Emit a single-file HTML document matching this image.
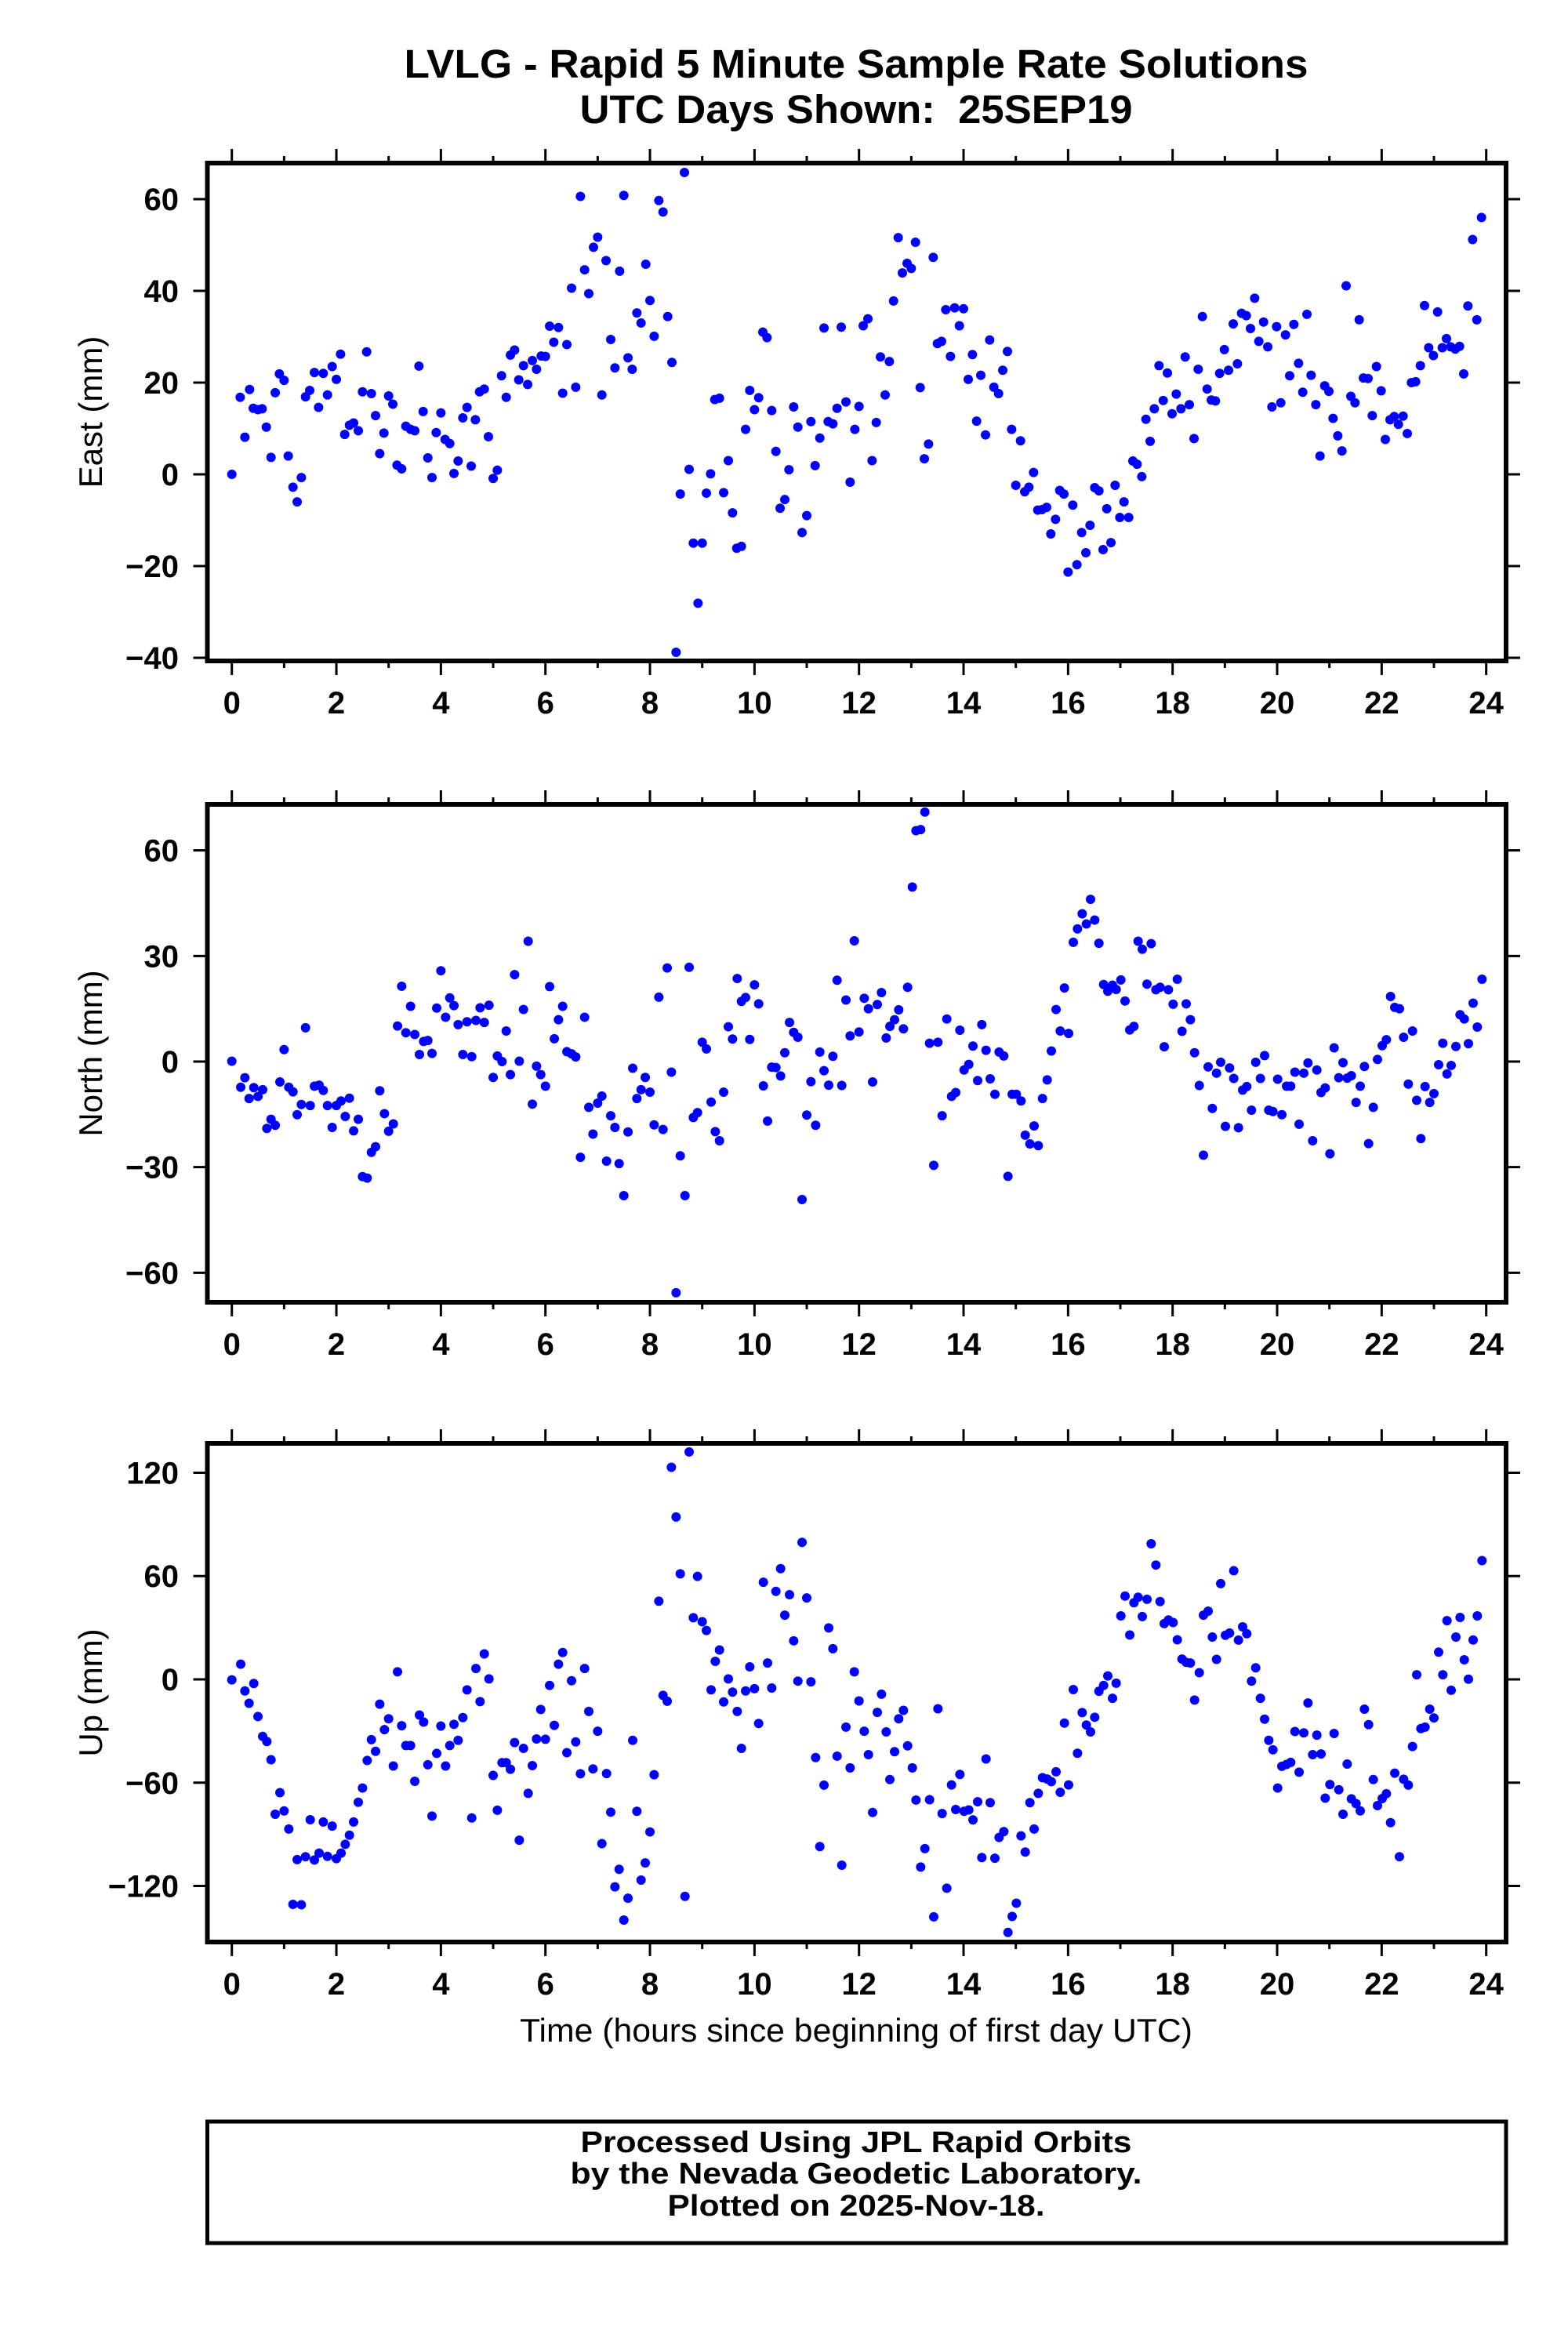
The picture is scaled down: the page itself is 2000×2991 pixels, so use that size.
<!DOCTYPE html>
<html>
<head>
<meta charset="utf-8">
<style>
  html, body { margin: 0; padding: 0; background: #ffffff; }
  svg { display: block; }
  text { font-family: "Liberation Sans", "DejaVu Sans", sans-serif; fill: #000; }
  .tick-label { font-weight: bold; font-size: 40px; }
  .axis-title { font-size: 42px; }
  .title { font-weight: bold; font-size: 51px; }
  .footer { font-weight: bold; font-size: 38px; }
</style>
</head>
<body>
<svg id="chart" xmlns="http://www.w3.org/2000/svg" width="2000" height="2991" viewBox="0 0 2000 2991">
  <rect x="0" y="0" width="2000" height="2991" fill="#ffffff"/>
  <text class="title" x="1092" y="99" text-anchor="middle" textLength="1153" lengthAdjust="spacingAndGlyphs">LVLG - Rapid 5 Minute Sample Rate Solutions</text>
  <text class="title" x="1092" y="157" text-anchor="middle" textLength="705" lengthAdjust="spacingAndGlyphs" xml:space="preserve">UTC Days Shown:  25SEP19</text>
  <g id="panels"></g>
  <text class="axis-title" x="1092" y="2604" text-anchor="middle" textLength="858" lengthAdjust="spacingAndGlyphs">Time (hours since beginning of first day UTC)</text>
  <rect x="264.5" y="2706" width="1656.5" height="155" fill="none" stroke="#000" stroke-width="5"/>
  <text class="footer" x="1092" y="2745" text-anchor="middle" textLength="703" lengthAdjust="spacingAndGlyphs">Processed Using JPL Rapid Orbits</text>
  <text class="footer" x="1092" y="2785" text-anchor="middle" textLength="729" lengthAdjust="spacingAndGlyphs">by the Nevada Geodetic Laboratory.</text>
  <text class="footer" x="1092" y="2826" text-anchor="middle" textLength="481" lengthAdjust="spacingAndGlyphs">Plotted on 2025-Nov-18.</text>
</svg>
<script>
// ---- data (hours since start of day, displacement in mm) ----
const xTickValues = [0,2,4,6,8,10,12,14,16,18,20,22,24];
const xTickLabels = ["0","2","4","6","8","10","12","14","16","18","20","22","24"];

const eastTicks = [-40,-20,0,20,40,60];
const eastTickLabels = ["\u221240","\u221220","0","20","40","60"];
const northTicks = [-60,-30,0,30,60];
const northTickLabels = ["\u221260","\u221230","0","30","60"];
const upTicks = [-120,-60,0,60,120];
const upTickLabels = ["\u2212120","\u221260","0","60","120"];

const eastT = [0,0.16,0.25,0.34,0.41,0.5,0.58,0.66,0.75,0.83,0.91,1.0,1.08,1.17,1.25,1.33,1.41,1.49,1.58,1.66,1.75,1.83,1.92,2.0,2.08,2.16,2.25,2.33,2.42,2.5,2.58,2.67,2.75,2.83,2.91,3.0,3.08,3.16,3.25,3.33,3.42,3.5,3.58,3.66,3.75,3.83,3.91,4.0,4.08,4.17,4.25,4.33,4.42,4.5,4.58,4.66,4.74,4.83,4.91,5.0,5.08,5.16,5.25,5.33,5.41,5.49,5.58,5.66,5.75,5.83,5.92,6.0,6.08,6.16,6.25,6.33,6.41,6.5,6.58,6.67,6.75,6.83,6.92,7.0,7.08,7.16,7.25,7.33,7.42,7.5,7.58,7.66,7.75,7.83,7.92,8.0,8.08,8.17,8.25,8.34,8.42,8.5,8.58,8.66,8.75,8.83,8.92,9.0,
9.08,9.16,9.24,9.33,9.41,9.5,9.58,9.66,9.75,9.83,9.91,10.0,10.08,10.16,10.24,10.33,10.41,10.49,10.58,10.66,10.75,10.83,10.91,11.0,11.08,11.16,11.25,11.33,11.41,11.5,11.58,11.66,11.75,11.83,11.92,12.0,12.08,12.17,12.25,12.33,12.41,12.5,12.58,12.66,12.75,12.83,12.92,13.0,13.08,13.17,13.25,13.33,13.42,13.5,13.58,13.66,13.75,13.83,13.92,14.0,14.09,14.17,14.25,14.33,14.42,14.5,14.58,14.67,14.75,14.84,14.92,15.0,15.09,15.17,15.25,15.34,15.42,15.5,15.59,15.67,15.76,15.84,15.92,16.0,16.09,16.17,16.26,16.34,16.42,16.51,16.59,16.67,
16.74,16.82,16.9,16.99,17.07,17.16,17.24,17.32,17.41,17.49,17.57,17.65,17.74,17.82,17.9,17.99,18.07,18.16,18.24,18.32,18.41,18.49,18.57,18.66,18.74,18.82,18.9,18.99,19.07,19.16,19.24,19.32,19.41,19.49,19.57,19.65,19.74,19.82,19.9,19.99,20.07,20.16,20.24,20.32,20.41,20.49,20.57,20.65,20.74,20.82,20.91,20.99,21.07,21.16,21.24,21.32,21.41,21.49,21.57,21.65,21.74,21.82,21.9,21.99,22.07,22.16,22.24,22.32,22.41,22.49,22.57,22.65,22.74,22.82,22.9,22.99,23.07,23.16,23.24,23.32,23.41,23.49,23.57,23.65,23.74,23.82,23.91];
const eastV = [0,16.8,8.1,18.5,14.4,14.1,14.3,10.3,3.7,17.8,21.9,20.5,4.0,-2.8,-6.0,-0.7,16.9,18.3,22.2,14.6,22.0,17.3,23.5,20.7,26.2,8.7,10.7,11.2,9.5,18.0,26.7,17.6,12.8,4.5,9.0,17.1,15.3,2.0,1.2,10.5,9.8,9.5,23.6,13.7,3.6,-0.7,9.1,13.4,7.6,6.7,0.2,2.9,12.3,14.6,1.8,11.9,18.0,18.6,8.2,-0.9,0.9,21.5,16.8,26.0,27.1,20.6,23.7,19.6,24.8,22.9,25.8,25.7,32.3,28.8,32.0,17.7,28.3,40.6,19.0,60.6,44.6,39.4,49.5,51.7,17.3,46.6,29.4,23.2,44.3,60.8,25.4,22.9,35.2,33.0,45.8,37.9,30.1,59.7,57.2,34.4,24.4,-38.8,-4.3,65.8,1.1,-15.0,-28.1,-15.0,
-4.1,0.1,16.3,16.6,-4.0,3.0,-8.4,-16.1,-15.7,9.8,18.3,14.1,16.7,31.0,29.8,13.9,5.0,-7.4,-5.5,1.0,14.7,10.3,-12.7,-9.0,11.5,1.9,7.9,31.9,11.5,11.0,14.4,32.1,15.8,-1.7,9.8,14.8,32.4,33.9,3.0,11.3,25.6,17.3,24.6,37.8,51.6,43.9,46.0,44.9,50.6,18.9,3.4,6.6,47.3,28.5,29.0,35.9,25.7,36.3,32.4,36.1,20.7,26.1,11.6,21.6,8.6,29.3,19.0,17.6,22.7,26.8,9.8,-2.4,7.3,-3.8,-2.8,0.4,-7.8,-7.7,-7.2,-13.0,-9.8,-3.5,-4.3,-21.3,-6.7,-19.7,-12.7,-17.1,-11.1,-2.9,-3.6,-16.4,
-7.5,-14.9,-2.4,-9.4,-6.0,-9.4,2.9,2.2,-0.5,12.0,7.2,14.3,23.7,16.1,22.1,13.2,17.5,14.3,25.6,15.2,7.8,22.9,34.4,18.6,16.2,16.0,22.0,27.2,22.7,32.8,24.1,35.1,34.6,31.8,38.4,29.0,33.2,27.8,14.7,32.2,15.6,30.4,21.5,32.7,24.2,17.9,34.9,21.6,15.2,4.0,19.3,18.1,12.2,8.4,5.1,41.1,17.0,15.6,33.7,21.0,20.9,12.8,23.5,18.2,7.6,11.9,12.6,10.9,12.7,8.9,20.0,20.2,23.7,36.8,27.6,25.9,35.4,27.6,29.6,27.8,27.3,27.9,21.9,36.7,51.2,33.7,56.0];

const northT = [0,0.17,0.25,0.33,0.42,0.5,0.59,0.67,0.75,0.83,0.92,1.0,1.09,1.17,1.25,1.33,1.41,1.5,1.58,1.67,1.75,1.83,1.92,2.0,2.09,2.17,2.25,2.33,2.42,2.5,2.59,2.67,2.75,2.83,2.92,3.0,3.09,3.17,3.25,3.33,3.42,3.5,3.59,3.67,3.75,3.83,3.92,4.0,4.09,4.17,4.25,4.33,4.42,4.5,4.59,4.67,4.75,4.83,4.92,5.0,5.08,5.17,5.25,5.33,5.41,5.5,5.58,5.67,5.75,5.83,5.91,6.0,6.08,6.17,6.25,6.33,6.41,6.5,6.58,6.67,6.75,6.83,6.91,7.0,7.08,7.17,7.25,7.33,7.41,7.5,7.58,7.67,7.75,7.83,7.91,8.0,8.08,8.17,8.25,8.33,8.41,8.5,8.58,8.67,8.75,8.83,8.91,9.0,9.08,9.17,9.25,9.33,9.41,9.5,9.58,9.67,9.75,9.83,9.91,10.0,10.08,10.17,10.25,10.33,10.41,10.5,10.58,10.67,10.75,10.83,10.91,11.0,11.08,11.17,11.25,11.33,11.42,11.5,11.58,11.67,11.75,11.83,11.91,
12.0,12.1,12.18,12.26,12.35,12.43,12.52,12.59,12.68,12.76,12.85,12.93,13.02,13.09,13.18,13.26,13.35,13.43,13.51,13.59,13.68,13.77,13.85,13.93,14.01,14.1,14.18,14.27,14.35,14.43,14.51,14.6,14.68,14.77,14.85,14.93,15.01,15.1,15.18,15.27,15.35,15.43,15.51,15.6,15.68,15.77,15.85,15.93,16.01,16.1,16.18,16.27,16.35,16.43,16.51,16.59,16.68,16.76,16.85,16.92,17.01,17.09,17.18,17.26,17.34,17.42,17.51,17.59,17.68,17.76,17.84,17.92,18.01,18.09,18.18,18.26,18.34,18.42,18.51,18.59,18.68,18.76,18.84,18.92,19.01,19.09,19.17,19.26,19.34,19.42,19.51,19.59,19.68,19.76,19.84,19.92,20.01,20.09,20.18,20.26,20.34,20.42,20.51,20.59,20.68,20.76,20.84,20.92,21.01,21.09,21.18,21.26,21.34,21.42,21.51,21.59,21.67,21.75,21.84,21.92,22.01,22.09,22.17,22.25,22.34,22.42,22.51,22.59,22.67,22.75,22.83,22.92,23.0,23.09,23.17,23.25,23.33,23.42,23.5,23.58,23.66,23.75,23.83,23.92];
const northV = [0.1,-7.3,-4.6,-10.5,-7.4,-9.9,-8.0,-19.0,-16.4,-18.1,-5.8,3.4,-7.3,-8.6,-15.1,-12.2,9.6,-12.5,-7.0,-6.7,-8.2,-12.5,-18.7,-12.5,-11.2,-15.6,-10.4,-19.7,-16.4,-32.7,-33.1,-25.8,-24.2,-8.3,-14.8,-19.8,-17.7,10.1,21.4,8.2,15.7,7.7,2.0,5.7,6.0,2.3,15.2,25.8,12.6,18.1,15.9,10.5,2.0,11.3,1.4,11.7,15.3,11.1,16.0,-4.5,1.6,0.0,8.7,-3.7,24.7,0.1,14.8,34.2,-12.1,-1.3,-3.7,-7.0,21.3,6.5,11.9,15.7,2.8,2.2,1.3,-27.2,12.6,-13.0,-20.6,-11.8,-9.8,-28.3,-15.4,-18.7,-29.0,-38.1,-20.0,-1.9,-10.5,-8.0,-4.5,-8.7,-18.0,18.3,-19.3,26.6,-3.0,-65.7,-26.8,-38.1,26.8,-15.9,-14.5,5.5,3.6,-11.5,-19.9,-22.5,-8.7,9.9,6.4,23.6,17.1,18.2,6.3,21.8,16.4,-6.9,-16.9,-1.6,-1.7,-4.1,2.5,11.1,8.3,6.9,-39.2,-15.2,-5.7,-18.1,2.7,-2.6,-6.7,1.5,23.1,-6.8,17.5,7.3,34.3,
8.4,18.0,15.0,-5.8,16.2,19.6,6.7,10.0,11.9,14.7,9.3,21.1,49.6,65.6,65.9,70.9,5.2,-29.5,5.5,-15.4,12.1,-9.9,-8.8,8.9,-2.4,-0.8,4.4,-5.4,10.5,3.2,-4.9,-9.3,2.7,1.6,-32.6,-9.3,-9.3,-11.2,-20.9,-23.4,-18.3,-23.9,-10.5,-5.2,3.0,14.8,8.7,20.9,8.0,33.9,37.7,42.0,39.1,46.1,40.2,33.6,21.9,20.0,21.7,20.5,23.2,17.2,9.0,10.0,34.2,31.9,22.0,33.5,20.4,21.1,4.2,20.4,16.3,23.4,8.6,16.4,11.9,2.5,-6.8,-26.6,-1.5,-13.3,-3.3,-0.2,-18.4,-1.8,-4.8,-18.8,-8.1,-7.1,-13.8,-0.2,-4.8,1.7,-13.8,-14.2,-5.0,-15.1,-7.0,-7.0,-3.0,-17.8,-3.3,-0.4,-22.5,-2.4,-8.8,-7.5,-26.2,3.9,-4.6,-0.3,-4.7,-4.0,-11.6,-7.0,-1.4,-23.3,-13.0,0.6,4.5,6.2,18.5,15.4,15.0,6.9,-6.4,8.7,-11.0,-21.9,-7.1,-11.6,-9.1,-0.9,5.2,-3.5,-1.1,4.3,13.3,12.1,5.1,16.6,9.8,23.4];

const upT = [0,0.17,0.25,0.33,0.42,0.5,0.59,0.67,0.75,0.83,0.92,1.0,1.09,1.17,1.25,1.33,1.41,1.5,1.58,1.67,1.75,1.83,1.92,2.0,2.09,2.17,2.25,2.33,2.42,2.5,2.59,2.67,2.75,2.83,2.92,3.0,3.09,3.17,3.25,3.33,3.42,3.5,3.59,3.67,3.75,3.83,3.92,4.0,4.09,4.17,4.25,4.33,4.42,4.5,4.59,4.67,4.75,4.83,4.92,5.0,5.08,5.17,5.25,5.33,5.41,5.5,5.58,5.67,5.75,5.83,5.91,6.0,6.08,6.17,6.25,6.33,6.41,6.5,6.58,6.67,6.75,6.83,6.91,7.0,7.08,7.17,7.25,7.33,7.41,7.5,7.58,7.67,7.75,7.83,7.91,8.0,8.08,8.17,8.25,8.33,8.41,8.5,8.58,8.67,8.75,8.83,8.91,9.0,9.08,9.17,9.25,9.33,9.41,9.5,9.58,9.67,9.75,9.83,9.91,10.0,10.08,10.17,10.25,10.33,10.41,10.5,10.58,10.67,10.75,10.83,10.91,11.0,11.08,11.17,11.25,11.33,11.42,11.5,11.58,11.67,11.75,11.83,11.91,
12.0,12.1,12.18,12.26,12.35,12.43,12.52,12.59,12.68,12.76,12.85,12.93,13.02,13.09,13.18,13.26,13.35,13.43,13.51,13.59,13.68,13.77,13.85,13.93,14.01,14.1,14.18,14.27,14.35,14.43,14.51,14.6,14.68,14.77,14.85,14.93,15.01,15.1,15.18,15.27,15.35,15.43,15.51,15.6,15.68,15.77,15.85,15.93,16.01,16.1,16.18,16.27,16.35,16.43,16.51,16.59,16.68,16.76,16.85,16.92,17.01,17.09,17.18,17.26,17.34,17.42,17.51,17.59,17.68,17.76,17.84,17.92,18.01,18.09,18.18,18.26,18.34,18.42,18.51,18.59,18.68,18.76,18.84,18.92,19.01,19.09,19.17,19.26,19.34,19.42,19.51,19.59,19.68,19.76,19.84,19.92,20.01,20.09,20.18,20.26,20.34,20.42,20.51,20.59,20.68,20.76,20.84,20.92,21.01,21.09,21.18,21.26,21.34,21.42,21.51,21.59,21.67,21.75,21.84,21.92,22.01,22.09,22.17,22.25,22.34,22.42,22.51,22.59,22.67,22.75,22.83,22.92,23.0,23.09,23.17,23.25,23.33,23.42,23.5,23.58,23.66,23.75,23.83,23.92];
const upV = [-0.3,8.8,-6.7,-13.9,-2.4,-21.6,-33.1,-36.1,-46.7,-78.3,-65.8,-76.4,-86.9,-130.7,-104.7,-130.9,-103.0,-81.5,-104.9,-100.9,-82.8,-102.8,-85.2,-104.1,-100.9,-95.8,-90.5,-82.8,-71.4,-63.1,-47.1,-35.0,-41.8,-14.4,-29.2,-22.9,-50.3,4.4,-26.9,-38.4,-38.4,-59.2,-20.7,-24.8,-49.6,-79.4,-43.0,-27.1,-50.3,-38.4,-26.1,-35.4,-22.2,-6.1,-80.5,6.3,-12.9,14.8,0.3,-55.8,-76.0,-48.4,-48.4,-52.2,-36.7,-93.4,-40.1,-66.2,-50.1,-34.6,-17.5,-34.8,-3.5,-26.7,8.8,15.6,-42.6,-0.8,-36.3,-54.8,6.3,-18.6,-52.0,-30.1,-95.4,-54.7,-77.1,-120.5,-110.3,-139.8,-127.1,-35.4,-76.6,-116.6,-106.6,-88.6,-55.4,45.4,-9.3,-12.7,123.2,94.3,61.3,-126.0,132.1,35.8,59.8,33.5,28.4,-6.1,10.5,17.1,-13.1,0.3,-7.4,-18.6,-40.1,-6.7,7.3,-5.4,-25.6,56.4,9.5,-5.0,51.1,64.3,37.3,49.2,22.4,-1.0,79.6,47.3,-1.4,-45.4,-97.1,-61.4,29.9,17.8,-44.6,-107.9,-27.7,-51.4,4.4,
-12.5,-30.1,-43.7,-77.3,-19.2,-8.6,-30.5,-58.2,-42.0,-22.9,-18.0,-38.6,-51.4,-70.1,-109.0,-98.3,-69.9,-137.9,-17.1,-77.9,-121.3,-61.3,-75.6,-55.2,-76.6,-75.8,-81.6,-71.1,-103.5,-46.2,-71.6,-103.9,-91.8,-88.4,-147.0,-137.7,-130.0,-90.9,-100.3,-71.6,-86.9,-66.2,-57.1,-57.9,-59.4,-53.7,-65.6,-25.4,-61.3,-5.9,-42.9,-19.3,-26.5,-30.5,-22.0,-6.9,-3.5,2.0,-11.0,-2.2,36.9,48.4,25.8,44.5,47.7,36.5,46.5,78.8,66.4,45.2,32.4,34.5,33.0,23.0,11.8,9.9,9.5,-12.0,3.9,37.3,39.6,24.6,11.6,55.6,25.6,26.9,63.1,22.8,30.5,26.5,-1.0,6.7,-11.0,-23.1,-35.4,-40.9,-63.1,-50.5,-49.4,-48.2,-30.3,-53.9,-31.1,-13.7,-43.7,-32.4,-43.3,-69.0,-61.1,-31.4,-64.1,-78.3,-49.2,-69.4,-72.2,-76.4,-17.3,-26.3,-58.2,-73.3,-69.2,-66.4,-83.2,-54.5,-103.0,-58.0,-61.4,-39.0,2.7,-28.6,-27.7,-17.3,-22.4,15.8,2.7,34.1,-6.3,24.6,36.0,11.4,0.1,22.9,36.9,69.0];

// ---- layout ----
const NS = "http://www.w3.org/2000/svg";
const X_LEFT = 264.5, X_RIGHT = 1921;
const X_MIN = -0.468, X_MAX = 24.38;
function xScale(h) { return X_LEFT + (h - X_MIN) / (X_MAX - X_MIN) * (X_RIGHT - X_LEFT); }

function el(tag, attrs, parent) {
  const e = document.createElementNS(NS, tag);
  for (const k in attrs) e.setAttribute(k, attrs[k]);
  parent.appendChild(e);
  return e;
}

function drawPanel(cfg) {
  const root = document.getElementById("panels");
  const g = el("g", {}, root);
  
  
  const yScale = v => cfg.bottom - (v - cfg.yMin) / (cfg.yMax - cfg.yMin) * (cfg.bottom - cfg.top);

  for (let h = 0; h <= 24; h++) {
    const major = h % 2 === 0;
    const len = major ? 18 : 9;
    const x = xScale(h);
    const tb = el("line", {x1: x, x2: x, y1: cfg.bottom, y2: cfg.bottom + len, stroke: "#000", "stroke-width": 3}, g);
    
    
    const tt = el("line", {x1: x, x2: x, y1: cfg.top, y2: cfg.top - len, stroke: "#000", "stroke-width": 3}, g);
    
    
  }
  xTickValues.forEach((v, i) => {
    const t = el("text", {x: xScale(v), y: cfg.bottom + 67, "text-anchor": "middle", class: "tick-label"}, g);
    t.textContent = xTickLabels[i];
    
    
  });

  cfg.ticks.forEach((v, i) => {
    const y = yScale(v);
    const tl = el("line", {x1: X_LEFT - 18, x2: X_LEFT, y1: y, y2: y, stroke: "#000", "stroke-width": 3}, g);
    
    
    const tr = el("line", {x1: X_RIGHT, x2: X_RIGHT + 18, y1: y, y2: y, stroke: "#000", "stroke-width": 3}, g);
    
    
    const t = el("text", {x: 228, y: y + 14, "text-anchor": "end", class: "tick-label"}, g);
    t.textContent = cfg.labels[i];
    
    
  });

  const cy = (cfg.top + cfg.bottom) / 2;
  const at = el("text", {x: 0, y: 0, "text-anchor": "middle", class: "axis-title", transform: "translate(130," + cy + ") rotate(-90)"}, g);
  at.textContent = cfg.title;
  
  

  const pts = el("g", {fill: "#0000ff"}, g);
  
  
  cfg.t.forEach((h, i) => {
    const c = el("circle", {cx: xScale(h), cy: yScale(cfg.v[i]), r: 6}, pts);
    
    
  });

  const fr = el("rect", {x: X_LEFT, y: cfg.top, width: X_RIGHT - X_LEFT, height: cfg.bottom - cfg.top, fill: "none", stroke: "#000", "stroke-width": 6}, g);
  
  
}

drawPanel({name: "east", title: "East (mm)", top: 208, bottom: 843, yMin: -40.68, yMax: 67.86, ticks: eastTicks, labels: eastTickLabels, t: eastT, v: eastV});
drawPanel({name: "north", title: "North (mm)", top: 1026, bottom: 1661, yMin: -68.39, yMax: 73.07, ticks: northTicks, labels: northTickLabels, t: northT, v: northV});
drawPanel({name: "up", title: "Up (mm)", top: 1841, bottom: 2477, yMin: -152.55, yMax: 137.07, ticks: upTicks, labels: upTickLabels, t: upT, v: upV});
</script>
</body>
</html>
